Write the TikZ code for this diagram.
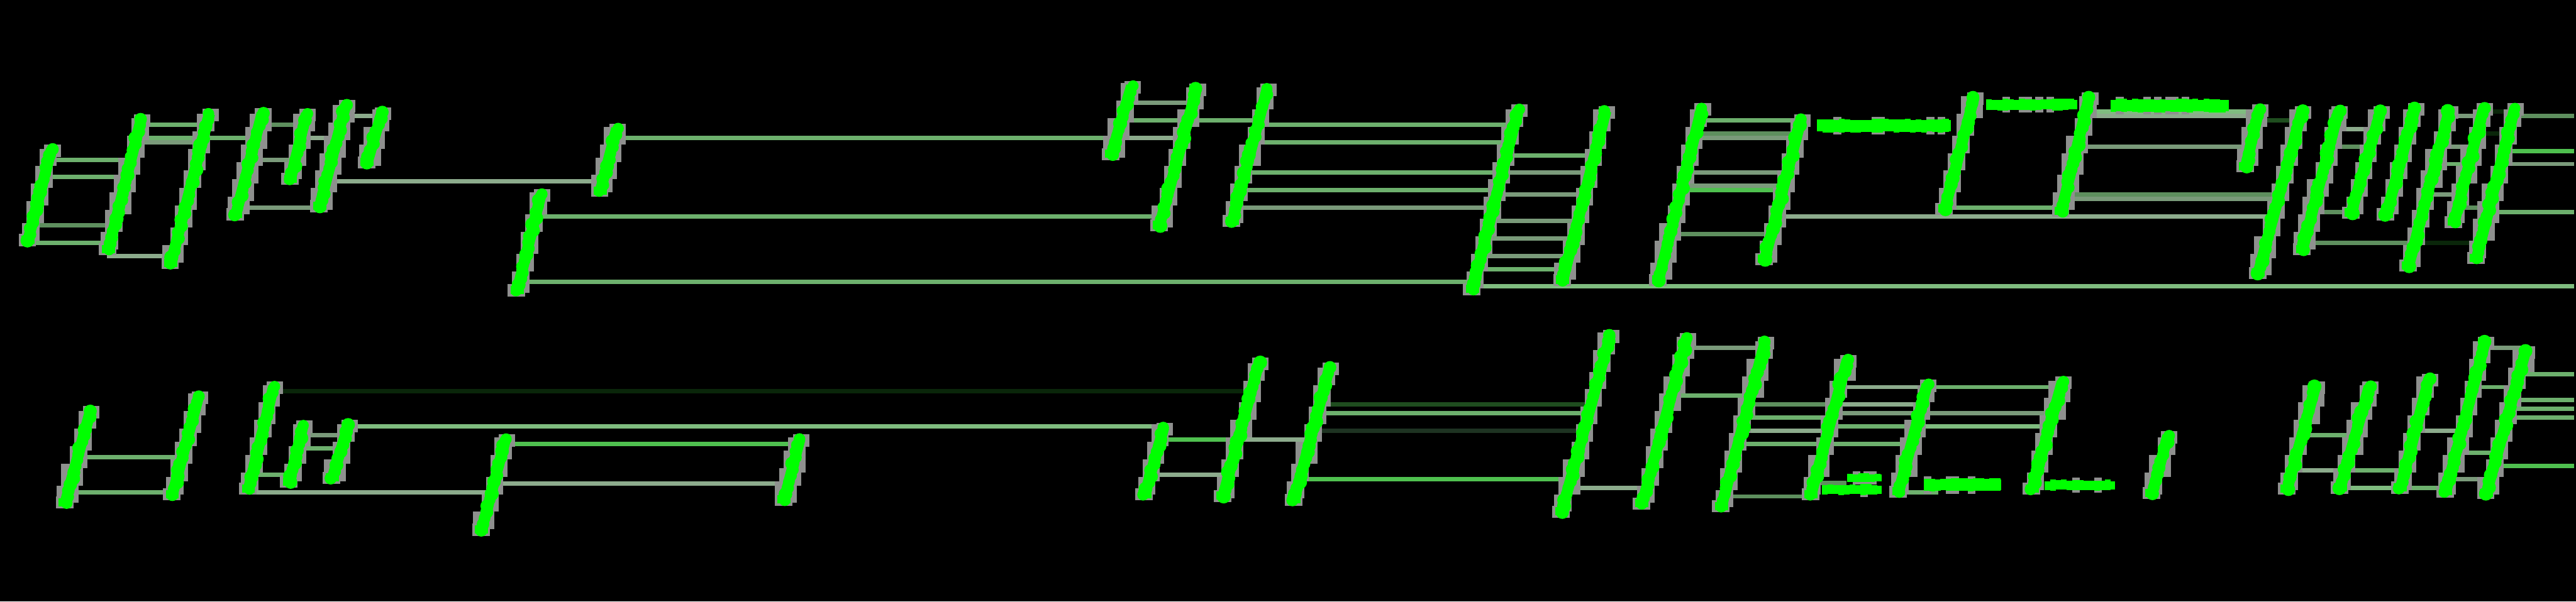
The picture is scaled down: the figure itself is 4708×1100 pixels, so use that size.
\documentclass[tikz,border=0pt]{standalone}
\usetikzlibrary{calc}
\definecolor{strandgreen}{HTML}{00FF00}
\definecolor{halo}{HTML}{8E908E}
\definecolor{rA}{HTML}{6DB06D}
\definecolor{rB}{HTML}{8CAB8C}
\definecolor{rC}{HTML}{7A9A7A}
\definecolor{rD}{HTML}{4FC04F}
\definecolor{rE}{HTML}{5E8F5E}
\definecolor{rF}{HTML}{7FBC7F}
\definecolor{fA}{HTML}{0A260A}
\definecolor{fB}{HTML}{1F4D1F}
\definecolor{fC}{HTML}{1E3322}
\tikzset{
  rungline/.style={line width=4pt,line cap=butt},
  haloblock/.style={fill=halo,draw=none},
  greenblob/.style={fill=strandgreen,draw=none},
  strandcore/.style={draw=strandgreen,line width=10pt,line cap=butt}
}
\newcommand{\strand}[5]{%
  \expandafter\gdef\csname sxa@#1\endcsname{#2}%
  \expandafter\gdef\csname sya@#1\endcsname{#3}%
  \expandafter\gdef\csname sxb@#1\endcsname{#4}%
  \expandafter\gdef\csname syb@#1\endcsname{#5}%
  \coordinate (#1-t) at (#2,#3);
  \coordinate (#1-b) at (#4,#5);
}
\newcommand{\strandx}[3]{%
  \pgfmathsetmacro#3{\csname sxa@#1\endcsname+(#2-\csname sya@#1\endcsname)/(\csname syb@#1\endcsname-\csname sya@#1\endcsname)*(\csname sxb@#1\endcsname-\csname sxa@#1\endcsname)}%
}
\newcommand{\rung}[4]{%
  \strandx{#2}{#4}{\rxa}\strandx{#3}{#4}{\rxb}%
  \coordinate (ra) at (\rxa,#4);
  \coordinate (rb) at (\rxb,#4);
  \draw[rungline,#1] (ra) -- (rb);
}
\newcommand{\rungout}[3]{%
  \strandx{#2}{#3}{\rxa}%
  \coordinate (ra) at (\rxa,#3);
  \coordinate (edge) at (4704,#3);
  \draw[rungline,#1] (ra) -- (edge);
}
\newcommand{\paint}[1]{%
  \edef\sxA{\csname sxa@#1\endcsname}\edef\syA{\csname sya@#1\endcsname}%
  \edef\sxB{\csname sxb@#1\endcsname}\edef\syB{\csname syb@#1\endcsname}%
  \pgfmathsetmacro\plen{\syB-\syA}%
  \pgfmathtruncatemacro\nh{\plen/36}%
  \foreach \k in {0,...,\nh}{%
    \pgfmathsetmacro\tfrac{(\k+0.5)/(\nh+1)}%
    \pgfmathsetmacro\ccx{\sxA+\tfrac*(\sxB-\sxA)}%
    \pgfmathsetmacro\ccy{\syA+\tfrac*(\syB-\syA)}%
    \pgfmathsetmacro\blx{8*round((\ccx-17)/8)}%
    \pgfmathsetmacro\brx{8*round((\ccx+17)/8)}%
    \pgfmathsetmacro\bty{8*round((\ccy-18)/8)}%
    \pgfmathsetmacro\bby{8*round((\ccy+18)/8)}%
    \fill[haloblock] (\blx,\bty) rectangle (\brx,\bby);
  }
  \fill[haloblock] ($(#1-t)+(-13,-9)$) rectangle ($(#1-t)+(17,14)$);
  \fill[haloblock] ($(#1-b)+(-17,-12)$) rectangle ($(#1-b)+(15,10)$);
  \draw[strandcore] (#1-t) -- (#1-b);
  \pgfmathtruncatemacro\nb{\plen/11}%
  \foreach \k in {0,...,\nb}{%
    \pgfmathsetmacro\tfrac{\k/\nb}%
    \pgfmathsetmacro\ccx{\sxA+\tfrac*(\sxB-\sxA)+rand*3}%
    \pgfmathsetmacro\ccy{\syA+\tfrac*(\syB-\syA)}%
    \pgfmathsetmacro\crad{10+rnd*3}%
    \fill[greenblob] (\ccx,\ccy) circle[radius=\crad];
  }
  \fill[greenblob] ($(#1-b)+(-12,-9)$) rectangle ($(#1-b)+(12,6)$);
}
\newcommand{\smudge}[4]{%
  \pgfmathsetmacro\second{#1+10}%
  \foreach \x in {#1,\second,...,#2}{%
    \pgfmathsetmacro\gg{rnd}%
    \ifdim\gg pt>0.70pt \fill[haloblock] (\x,#3-6) rectangle (\x+14,#4+6);\fi
  }
  \fill[greenblob] (#1,#3) rectangle (#2+10,#4);
  \foreach \x in {#1,\second,...,#2}{%
    \pgfmathsetmacro\ha{rnd*3}%
    \pgfmathsetmacro\hb{rnd*3}%
    \fill[greenblob] (\x,#3-\ha) rectangle (\x+10.5,#4+\hb);
  }
}
\begin{document}
\begin{tikzpicture}[x=0.5pt,y=-0.5pt]
\pgfmathsetseed{4708}
\fill[black] (0,0) rectangle (4708,1100);
\useasboundingbox (0,0) rectangle (4708,1100);
\strand{B1}{94}{273}{51}{440}
\strand{B2}{258}{218}{198}{457}
\strand{B3}{383}{208}{312}{482}
\strand{B4}{479}{207}{431}{393}
\strand{B5}{560}{208}{531}{328}
\strand{B6}{632}{192}{584}{378}
\strand{B7}{698}{205}{671}{298}
\strand{B8}{1127}{235}{1097}{350}
\strand{B9}{989}{355}{945}{532}
\strand{B10}{2068}{157}{2031}{283}
\strand{B11}{2187}{162}{2119}{413}
\strand{B12}{2316}{162}{2252}{405}
\strand{B13}{2775}{200}{2691}{530}
\strand{B14}{2935}{203}{2856}{513}
\strand{B15}{3110}{198}{3031}{513}
\strand{B16}{3292}{218}{3225}{475}
\strand{B17}{3608}{178}{3554}{383}
\strand{B18}{3818}{178}{3767}{387}
\strand{B19}{4129}{200}{4104}{305}
\strand{B20}{4207}{203}{4127}{500}
\strand{B21}{4274}{203}{4208}{457}
\strand{B22}{4351}{203}{4297}{390}
\strand{B23}{4414}{198}{4361}{393}
\strand{B24}{4476}{203}{4402}{487}
\strand{B25}{4539}{198}{4485}{407}
\strand{B26}{4596}{198}{4526}{473}
\strand{C1}{165}{752}{119}{920}
\strand{C2}{363}{725}{315}{905}
\strand{C3}{500}{707}{454}{895}
\strand{C4}{554}{778}{529}{882}
\strand{C5}{637}{777}{607}{875}
\strand{C6}{924}{803}{880}{970}
\strand{C6b}{1462}{803}{1433}{915}
\strand{C7}{2127}{782}{2092}{905}
\strand{C8}{2301}{663}{2235}{908}
\strand{C9}{2430}{672}{2365}{915}
\strand{C10}{2943}{613}{2854}{937}
\strand{C11}{3083}{618}{3001}{922}
\strand{C12}{3226}{625}{3146}{927}
\strand{C13}{3376}{658}{3310}{905}
\strand{C14}{3522}{703}{3470}{900}
\strand{C15}{3769}{698}{3714}{895}
\strand{C16}{3962}{797}{3933}{903}
\strand{C17}{4232}{707}{4180}{895}
\strand{C18}{4330}{707}{4277}{893}
\strand{C19}{4439}{693}{4387}{893}
\strand{C20}{4542}{625}{4470}{900}
\strand{C21}{4616}{642}{4544}{903}
\rung{rA}{B1}{B2}{292}\rung{rA}{B1}{B2}{324}\rung{rE}{B1}{B2}{412}\rung{rA}{B1}{B2}{444}
\rung{rA}{B2}{B3}{228}\rung{rA}{B2}{B3}{252}\rung{rC}{B2}{B3}{260}\rung{rB}{B2}{B3}{468}
\rung{rA}{B3}{B4}{252}
\rung{rE}{B4}{B5}{228}\rung{rC}{B4}{B5}{292}
\rung{rB}{B5}{B6}{252}
\rung{rC}{B4}{B6}{380}
\rung{rB}{B6}{B7}{212}
\rung{rB}{B6}{B8}{332}
\rung{rA}{B8}{B10}{252}
\rung{rA}{B9}{B11}{396}
\rung{rA}{B9}{B13}{516}
\rung{rC}{B10}{B11}{188}\rung{rA}{B10}{B11}{220}\rung{rB}{B10}{B11}{252}
\rung{rA}{B11}{B12}{220}
\rung{rA}{B12}{B13}{228}\rung{rA}{B12}{B13}{260}\rung{rA}{B12}{B13}{316}\rung{rA}{B12}{B13}{348}\rung{rC}{B12}{B13}{380}
\rung{rA}{B13}{B14}{284}\rung{rC}{B13}{B14}{316}\rung{rC}{B13}{B14}{356}\rung{rC}{B13}{B14}{404}\rung{rC}{B13}{B14}{436}\rung{rC}{B13}{B14}{468}\rung{rA}{B13}{B14}{492}
\rungout{rF}{B13}{524}
\rung{rA}{B15}{B16}{220}\rung{rE}{B15}{B16}{244}\rung{rC}{B15}{B16}{252}\rung{rC}{B15}{B16}{316}\rung{rC}{B15}{B16}{340}\rung{rD}{B15}{B16}{348}\rung{rE}{B15}{B16}{428}
\rung{rB}{B16}{B20}{396}
\rung{rA}{B17}{B18}{380}
\rung{rF}{B18}{B19}{204}\rung{rB}{B18}{B19}{212}\rung{rC}{B18}{B19}{268}
\rung{fB}{B19}{B20}{220}
\rung{rE}{B18}{B20}{356}\rung{rC}{B18}{B20}{364}
\rung{rB}{B21}{B22}{236}\rung{rE}{B21}{B22}{268}\rung{rE}{B21}{B22}{388}
\rung{rE}{B21}{B24}{444}\rung{fA}{B24}{B26}{444}
\rung{rC}{B24}{B25}{212}\rung{rC}{B24}{B25}{268}\rung{rA}{B24}{B25}{300}\rung{rC}{B24}{B25}{356}
\rung{rE}{B25}{B26}{380}
\rung{fA}{B25}{B26}{204}\rung{fA}{B25}{B26}{244}
\rungout{rE}{B26}{212}\rungout{rD}{B26}{276}\rungout{rC}{B26}{300}\rungout{rA}{B26}{388}
\rung{rA}{C1}{C2}{836}\rung{rA}{C1}{C2}{900}
\rung{rA}{C3}{C4}{868}\rung{rC}{C4}{C5}{796}\rung{rA}{C4}{C5}{820}
\rung{fA}{C3}{C8}{716}
\rung{rF}{C5}{C7}{780}
\rung{rB}{C3}{C6}{900}
\rung{rD}{C6}{C6b}{812}\rung{rB}{C6}{C6b}{884}
\rung{rD}{C7}{C8}{804}\rung{rB}{C8}{C9}{804}\rung{rB}{C7}{C8}{868}
\rung{fB}{C9}{C10}{740}\rung{rA}{C9}{C10}{756}\rung{fC}{C9}{C10}{788}\rung{rD}{C9}{C10}{876}
\rung{rB}{C10}{C11}{892}
\rung{rC}{C11}{C12}{636}\rung{rA}{C11}{C12}{724}
\rung{rE}{C12}{C13}{740}\rung{rA}{C12}{C13}{764}\rung{rB}{C12}{C13}{788}\rung{rA}{C12}{C13}{812}\rung{rE}{C12}{C13}{908}
\rung{rB}{C13}{C14}{708}\rung{rB}{C13}{C14}{740}\rung{rC}{C13}{C14}{756}\rung{rA}{C13}{C14}{780}\rung{rA}{C13}{C14}{812}
\rung{rA}{C14}{C15}{708}\rung{rC}{C14}{C15}{756}\rung{rF}{C14}{C15}{780}
\rung{rA}{C17}{C18}{796}\rung{rB}{C17}{C18}{860}\rung{rA}{C18}{C19}{860}\rung{rF}{C18}{C19}{892}
\rung{rA}{C19}{C20}{892}\rung{rB}{C19}{C20}{788}
\rung{rC}{C20}{C21}{636}\rung{rA}{C20}{C21}{708}\rung{rA}{C20}{C21}{828}\rung{rC}{C20}{C21}{876}
\rungout{rA}{C21}{684}\rungout{rA}{C21}{732}\rungout{rA}{C21}{748}\rungout{rA}{C21}{764}\rungout{rD}{C21}{852}
\coordinate (stubA) at (3375,883);
\coordinate (stubB) at (3542,900);
\strandx{C13}{883}{\sxx}\coordinate (stubAs) at (\sxx,883);
\strandx{C14}{900}{\sxy}\coordinate (stubBs) at (\sxy,900);
\draw[rungline,rE] (stubAs) -- (stubA);
\draw[rungline,rA] (stubBs) -- (stubB);
\paint{B1}\paint{B2}\paint{B3}\paint{B4}\paint{B5}\paint{B6}\paint{B7}\paint{B8}\paint{B9}
\paint{B10}\paint{B11}\paint{B12}\paint{B13}\paint{B14}\paint{B15}\paint{B16}\paint{B17}\paint{B18}
\paint{B19}\paint{B20}\paint{B21}\paint{B22}\paint{B23}\paint{B24}\paint{B25}\paint{B26}
\paint{C1}\paint{C2}\paint{C3}\paint{C4}\paint{C5}\paint{C6}\paint{C6b}\paint{C7}\paint{C8}
\paint{C9}\paint{C10}\paint{C11}\paint{C12}\paint{C13}\paint{C14}\paint{C15}\paint{C16}
\paint{C17}\paint{C18}\paint{C19}\paint{C20}\paint{C21}
\smudge{3321}{3556}{220}{240}
\smudge{3630}{3786}{183}{200}
\smudge{3857}{4063}{183}{203}
\smudge{3376}{3429}{868}{880}
\smudge{3330}{3429}{888}{903}
\smudge{3516}{3647}{877}{897}
\smudge{3737}{3856}{880}{895}
\end{tikzpicture}
\end{document}
